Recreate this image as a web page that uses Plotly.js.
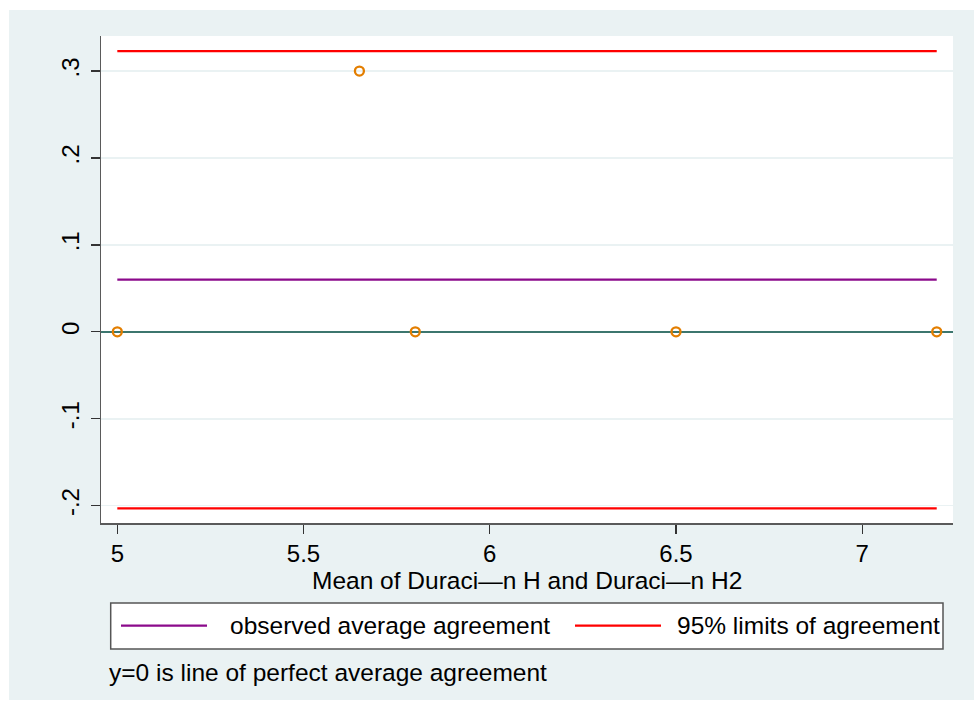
<!DOCTYPE html>
<html>
<head>
<meta charset="utf-8">
<script src="https://cdn.plot.ly/plotly-3.0.1.min.js"></script>
<style>
  html, body { margin: 0; padding: 0; background: #ffffff; }
  #chart { position: absolute; left: 9px; top: 10px; width: 965px; height: 690px; }
</style>
</head>
<body>
<div id="chart"></div>
<script>
// Bland-Altman: mean of the two measurements vs. their difference
const pairMeans = [5, 5.65, 5.8, 6.5, 7.2];
const pairDiffs = [0, 0.3, 0, 0, 0];

// Agreement statistics
const avgAgreement = 0.06;
const limitsOfAgreement = [-0.203, 0.323];

// Axis ticks
const xTickVals = [5, 5.5, 6, 6.5, 7];
const xTickText = ['5', '5.5', '6', '6.5', '7'];
const yTickVals = [-0.2, -0.1, 0, 0.1, 0.2, 0.3];
const yTickText = ['-.2', '-.1', '0', '.1', '.2', '.3'];

// Legend entries
const legendNames = ['observed average agreement', '95% limits of agreement'];
const legendColors = ['#8B0A8B', '#FF0000'];

const xAxisTitle = 'Mean of Duraci\u2014n H and Duraci\u2014n H2';
const noteText = 'y=0 is line of perfect average agreement';

const FONT = 'Liberation Sans, Arial, Helvetica, sans-serif';
const TEXT_SIZE = 24.5;
const xMin = Math.min(...pairMeans);
const xMax = Math.max(...pairMeans);

const traces = [
  {
    x: [xMin, xMax], y: [avgAgreement, avgAgreement],
    mode: 'lines', line: { color: legendColors[0], width: 2.2 },
    name: legendNames[0], hoverinfo: 'skip'
  },
  {
    x: [xMin, xMax], y: [limitsOfAgreement[1], limitsOfAgreement[1]],
    mode: 'lines', line: { color: legendColors[1], width: 2.2 },
    name: legendNames[1], hoverinfo: 'skip'
  },
  {
    x: [xMin, xMax], y: [limitsOfAgreement[0], limitsOfAgreement[0]],
    mode: 'lines', line: { color: legendColors[1], width: 2.2 },
    name: legendNames[1], hoverinfo: 'skip'
  },
  {
    x: pairMeans, y: pairDiffs,
    mode: 'markers',
    marker: { symbol: 'circle-open', size: 9, color: '#E37E00', line: { width: 2.3 } },
    cliponaxis: false
  }
];

// Plot area spans 852 x 487 px; legend pieces are placed in paper units
const plotW = 852, plotH = 487;
const px = v => v / plotW;
const py = v => -v / plotH;   // distance below the x axis

const shapes = [
  { type: 'rect', xref: 'paper', yref: 'paper',
    x0: px(9.7), x1: px(842), y0: py(126), y1: py(80),
    fillcolor: '#ffffff', line: { color: '#555555', width: 1.5 } },
  { type: 'line', xref: 'paper', yref: 'paper',
    x0: px(20), x1: px(106), y0: py(102.7), y1: py(102.7),
    line: { color: legendColors[0], width: 2.2 } },
  { type: 'line', xref: 'paper', yref: 'paper',
    x0: px(474), x1: px(560), y0: py(102.7), y1: py(102.7),
    line: { color: legendColors[1], width: 2.2 } }
];

const textFont = { family: FONT, size: TEXT_SIZE, color: '#000' };
const annotations = [
  { text: xAxisTitle, xref: 'paper', yref: 'paper', x: 0.5, y: py(57),
    xanchor: 'center', yanchor: 'middle', showarrow: false, borderpad: 0, font: textFont },
  { text: legendNames[0], xref: 'paper', yref: 'paper', x: px(127), y: py(102.7),
    xanchor: 'left', yanchor: 'middle', showarrow: false, font: textFont },
  { text: legendNames[1], xref: 'paper', yref: 'paper', x: px(574), y: py(102.7),
    xanchor: 'left', yanchor: 'middle', showarrow: false, font: textFont },
  { text: noteText, xref: 'paper', yref: 'paper', x: px(6), y: py(149),
    xanchor: 'left', yanchor: 'middle', showarrow: false, font: textFont }
];

const layout = {
  width: 965, height: 690,
  margin: { l: 92, r: 21, t: 26, b: 177 },
  paper_bgcolor: '#EAF2F3',
  plot_bgcolor: '#ffffff',
  showlegend: false,
  font: { family: FONT, size: 24, color: '#000' },
  xaxis: {
    range: [4.9562, 7.2437],
    tickvals: xTickVals, ticktext: xTickText,
    ticks: 'outside', ticklen: 9, tickwidth: 1.2, tickcolor: '#333',
    showgrid: false, zeroline: false,
    showline: true, linecolor: '#5a5a5a', linewidth: 1.5,
    tickfont: { family: FONT, size: 24, color: '#000' },
    ticklabelstandoff: 0
  },
  yaxis: {
    range: [-0.2199, 0.3403],
    tickvals: yTickVals, ticktext: yTickText,
    tickangle: -90,
    ticks: 'outside', ticklen: 9, tickwidth: 1.2, tickcolor: '#333',
    showgrid: true, gridcolor: '#EAF2F3', gridwidth: 1.5,
    zeroline: true, zerolinecolor: '#3C766E', zerolinewidth: 2.5,
    showline: true, linecolor: '#5a5a5a', linewidth: 1.5,
    tickfont: { family: FONT, size: 24, color: '#000' },
    ticklabelstandoff: 2
  },
  shapes: shapes,
  annotations: annotations
};

Plotly.newPlot('chart', traces, layout, { displayModeBar: false, staticPlot: true });
</script>
</body>
</html>
